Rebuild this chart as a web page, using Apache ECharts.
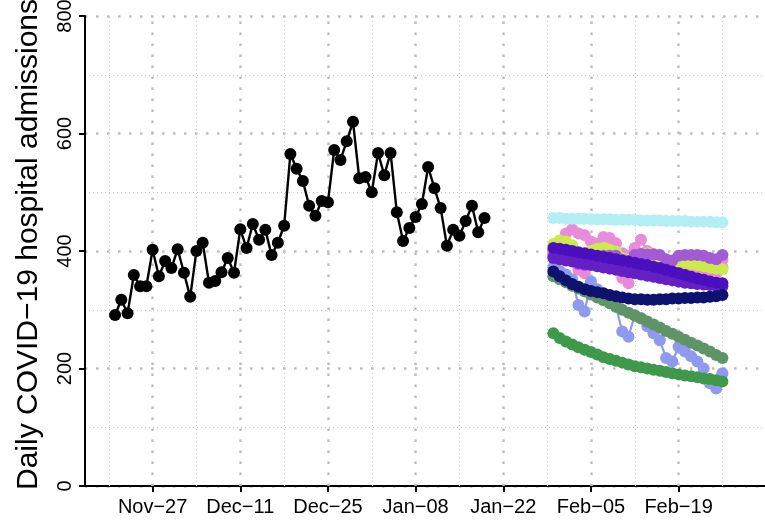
<!DOCTYPE html>
<html><head><meta charset="utf-8">
<script src="https://cdn.jsdelivr.net/npm/echarts@6/dist/echarts.min.js"></script>
<style>html,body{margin:0;padding:0;background:#fff}#c{width:765px;height:523px}</style>
</head><body><div id="c"></div>
<script>
// x = day index, day 0 = Nov-21
const observedStartDay = 0;
const observed = [291,317,294,359,340,340,402,357,383,371,403,363,322,400,414,346,349,364,388,363,
  437,405,446,419,436,393,414,443,565,540,519,477,460,485,483,572,555,587,620,524,526,500,567,529,567,
  466,417,439,458,480,543,507,473,409,436,426,451,477,432,456];
const forecastStartDay = 70; // Jan-30
const fcPink2 = [400,398,395,390,368,362,380,378,375,372,370,354,345,365,368,370,368,366,356,354,368,370,368,366,364,365,362,372];
const fcPink1 = [395,410,430,437,430,427,416,412,424,422,413,396,392,405,419,400,395,392,380,378,390,392,390,388,387,376,378,385];
const fcPeriwinkle = [372,366,360,352,308,297,348,335,325,315,305,263,254,291,286,272,260,248,218,212,237,229,221,212,200,175,166,192];
const fcSage = [357,352,347,341,336,331,326,321,316,311,305,300,295,290,285,280,275,270,264,259,254,249,244,239,234,229,223,218];
const fcGreen = [260,252,246,241,236,232,228,224,219,216,213,210,207,204,202,200,198,196,194,192,190,188,187,185,183,182,180,178];
const fcYellowGreen = [412,418,416,410,382,379,400,404,405,402,399,388,385,392,394,396,392,389,382,380,382,380,378,376,374,372,370,369];
const fcMedPurple = [392,392,391,390,378,376,390,391,392,392,392,385,383,393,395,394,394,393,386,384,392,393,393,393,392,388,386,393];
const fcIndigo2 = [388,386,384,382,380,378,376,374,372,370,368,366,364,362,360,358,356,354,352,350,348,346,345,344,343,342,341,340];
const fcIndigo1 = [405,404,402,400,398,396,394,392,390,388,386,384,382,380,378,376,373,371,368,365,362,359,356,353,351,348,346,345];
const fcNavy = [365,357,350,344,339,335,332,330,328,325,323,321,319,318,318,317,317,318,318,319,319,320,320,321,321,322,323,325];
const fcCyan = [456,456,455,455,455,455,454,454,454,454,453,453,453,453,452,452,452,452,451,451,451,451,450,450,450,450,449,449];

const tickDays = [6,20,34,48,62,76,90];
const tickLabels = ['Nov\u221227','Dec\u221211','Dec\u221225','Jan\u221208','Jan\u221222','Feb\u221205','Feb\u221219'];
const minorGridDays = [-1,13,27,41,55,69,83,97];
const yTitle = 'Daily COVID\u221219 hospital admissions';

const FONT = 'Liberation Sans, Arial, Helvetica, sans-serif';
const labelOf = {};
tickDays.forEach((d,i)=>labelOf[d]=tickLabels[i]);

function toPts(arr, start){ return arr.map((v,i)=>[start+i, v]); }
function fcSeries(name, arr, color){
  return {name, type:'line', data: toPts(arr, forecastStartDay), symbol:'circle', symbolSize:12,
    showSymbol:true, lineStyle:{color, width:2.2}, itemStyle:{color}, z:3, animation:false};
}
const majorGrid = {color:'#bebebe', width:2.5, type:[2.5,8.5]};
const minorGrid = {color:'#c8c8c8', width:1, type:[1,3]};

const chart = echarts.init(document.getElementById('c'), null, {renderer:'canvas'});
chart.setOption({
  animation:false,
  backgroundColor:'#fff',
  grid:{left:85, right:0, top:16, bottom:37, containLabel:false, outerBoundsMode:'none'},
  xAxis:{type:'value', min:-4.8, max:103.8,
    axisLine:{show:true, onZero:false, lineStyle:{color:'#000', width:2}},
    axisTick:{show:true, customValues:tickDays, length:6, lineStyle:{color:'#000', width:2}},
    axisLabel:{show:true, customValues:tickDays, formatter:v=>labelOf[v]||'', fontSize:20, color:'#000', fontFamily:FONT, margin:11},
    splitLine:{show:false}},
  yAxis:{type:'value', min:0, max:800, interval:200,
    axisLine:{show:true, onZero:false, lineStyle:{color:'#000', width:2}},
    axisTick:{show:true, length:6, lineStyle:{color:'#000', width:2}},
    axisLabel:{rotate:90, fontSize:20, color:'#000', fontFamily:FONT, margin:10},
    splitLine:{show:true, lineStyle:majorGrid},
    minorTick:{show:false, splitNumber:2},
    minorSplitLine:{show:true, lineStyle:minorGrid},
    name:yTitle, nameLocation:'middle', nameGap:41, nameRotate:90,
    nameTextStyle:{fontSize:30, color:'#000', fontFamily:FONT, padding:[0,0,0,13]}},
  series:[
    {name:'grid', type:'line', data:[], z:1, silent:true,
      markLine:{silent:true, z:1, symbol:['none','none'], animation:false, label:{show:false},
        emphasis:{disabled:true},
        data: tickDays.map(d=>({xAxis:d, lineStyle:majorGrid})).concat(minorGridDays.map(d=>({xAxis:d, lineStyle:minorGrid})))}},
    {name:'observed', type:'line', data:toPts(observed, observedStartDay), symbol:'circle', symbolSize:12,
      lineStyle:{color:'#000', width:2.4}, itemStyle:{color:'#000'}, z:3},
    fcSeries('p2', fcPink2, '#ea88da'),
    fcSeries('p1', fcPink1, '#e98bdb'),
    fcSeries('peri', fcPeriwinkle, '#8f99ee'),
    fcSeries('sage', fcSage, '#5f9566'),
    fcSeries('green', fcGreen, '#3e9a4a'),
    fcSeries('yg', fcYellowGreen, '#cdea4d'),
    fcSeries('mp', fcMedPurple, '#a35bd5'),
    fcSeries('i2', fcIndigo2, '#6420c4'),
    fcSeries('i1', fcIndigo1, '#4a0fbf'),
    fcSeries('navy', fcNavy, '#0c126e'),
    fcSeries('cyan', fcCyan, '#b3eef4')
  ]
});
</script></body></html>
